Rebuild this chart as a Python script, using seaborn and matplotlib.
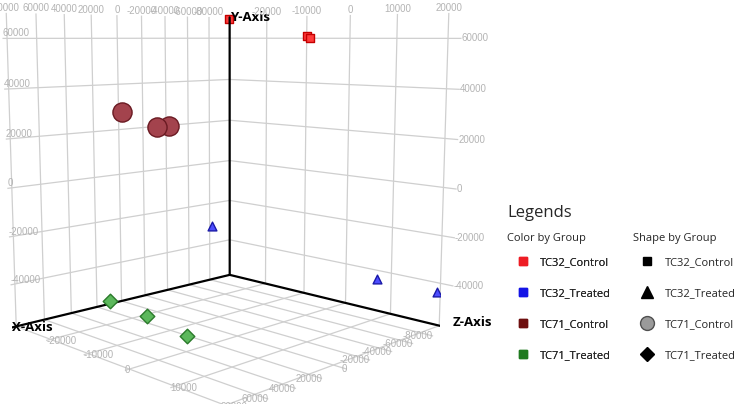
import numpy as np
import matplotlib
matplotlib.use("Agg")
import matplotlib.pyplot as plt
from matplotlib.lines import Line2D
import seaborn as sns

# ---------------- data ----------------
groups = ["TC32_Control", "TC32_Treated", "TC71_Control", "TC71_Treated"]
point_group = (["TC32_Control"] * 3 + ["TC32_Treated"] * 3 +
               ["TC71_Control"] * 3 + ["TC71_Treated"] * 3)
x_vals = [-92000, -91000, -96000, -75000, -80000, -96000,
          11000, -17000, -27000, 17500, 26000, 41000]
y_vals = [61000, 60000, 69000, -30000, -39500, -43000,
          29000, 21000, 21000, -54000, -53000, -51500]
z_vals = [-8000, -7000, -29000, -28000, 11000, 20000,
          -25000, -25000, -25000, -27000, -14000, 600]

x_ticks = [-80000, -60000, -40000, -20000, 0, 20000, 40000, 60000, 80000]
y_ticks = [-40000, -20000, 0, 20000, 40000, 60000]
z_ticks = [-20000, -10000, 0, 10000, 20000]
x_lim = (-100000, 83000)
y_lim = (-58000, 70000)
z_lim = (-30000, 22500)

legend_colors = ["#ee1c24", "#1414e6", "#6e0f0f", "#1f7a1f"]
fill_colors = ["#ff3b3b", "#4d4dff", "#a3434d", "#5cb85c"]
edge_colors = ["#c40000", "#1a1aa8", "#6a1a22", "#2a7a2a"]
markers = ["s", "^", "o", "D"]
sizes = [40, 40, 190, 55]

# ---------------- style ----------------
sns.set_theme(style="white")
plt.rcParams["font.family"] = ["Open Sans", "DejaVu Sans"]
plt.rcParams["grid.color"] = "#cfcfcf"
plt.rcParams["grid.linewidth"] = 0.9
pal_fill = sns.color_palette(fill_colors)
pal_edge = sns.color_palette(edge_colors)
pal_leg = sns.color_palette(legend_colors)

fig = plt.figure(figsize=(7.40, 4.04), dpi=100)
ax = fig.add_axes([-0.025, 0.025, 0.66, 1.06], projection="3d")
ax.set_proj_type("persp", focal_length=0.42)
ax.view_init(elev=8, azim=45)
ax.set_box_aspect((1, 1.02, 1.01), zoom=1.25)

# mpl axes: x = X, y = Z, z = Y
ax.set_xlim(*x_lim)
ax.set_ylim(*z_lim)
ax.set_zlim(*y_lim)
ax.set_xticks(x_ticks)
ax.set_yticks(z_ticks)
ax.set_zticks(y_ticks)
ax.set_xticklabels([])
ax.set_yticklabels([])
ax.set_zticklabels([])
for a in (ax.xaxis, ax.yaxis, ax.zaxis):
    a.set_pane_color((1, 1, 1, 0))
    a.pane.set_edgecolor((1, 1, 1, 0))
    a.line.set_color((1, 1, 1, 0))
    a._axinfo["tick"]["inward_factor"] = 0
    a._axinfo["tick"]["outward_factor"] = 0
    a._axinfo["grid"]["color"] = "#cfcfcf"
    a._axinfo["grid"]["linewidth"] = 0.9
ax.grid(True)

# black axis lines
x0, x1 = x_lim
z0, z1 = z_lim
y0, y1 = y_lim
ax.plot([x0, x1], [z0, z0], [y0, y0], color="black", lw=1.6, zorder=2)
ax.plot([x0, x0], [z0, z1], [y0, y0], color="black", lw=1.6, zorder=2)
ax.plot([x0, x0], [z0, z0], [y0, y1], color="black", lw=1.6, zorder=2)

lab_kw = dict(fontsize=9.5, fontweight="bold", color="black")
ax.text(x1, z0, y0, "X-Axis", ha="left", va="center", **lab_kw)
ax.text(x0, z1, y0 + 2500, "Z-Axis", ha="left", va="center", **lab_kw)
ax.text(x0, z0, y1, "Y-Axis", ha="left", va="center", **lab_kw)

tk = dict(fontsize=7, color="#b4b4b4", family=["Liberation Sans"])
for t in x_ticks:
    ax.text(t, z0, y1, f"{t}", ha="center", va="bottom", **tk)
    ax.text(t, z1, y0, f"{t}", ha="right", va="center", **tk)
for t in z_ticks:
    ax.text(x0, t, y1, f"{t}", ha="center", va="bottom", **tk)
    ax.text(x1, t, y0, f"{t}", ha="left", va="center", **tk)
for t in y_ticks:
    ax.text(x1, z0, t, f"{t}", ha="left", va="bottom", **tk)
    ax.text(x0, z1, t, f"{t}", ha="left", va="center", **tk)

# points
for gi, g in enumerate(groups):
    idx = [i for i, pg in enumerate(point_group) if pg == g]
    ax.scatter([x_vals[i] for i in idx], [z_vals[i] for i in idx],
               [y_vals[i] for i in idx], marker=markers[gi], s=sizes[gi],
               color=pal_fill[gi], edgecolors=[pal_edge[gi]], linewidths=1.0,
               depthshade=False, zorder=5)

# ---------------- legends ----------------
fig.text(507 / 740, 1 - 213 / 404, "Legends", fontsize=12, va="center", ha="left")
fig.text(507 / 740, 1 - 238 / 404, "Color by Group", fontsize=8, va="center", ha="left")
fig.text(633 / 740, 1 - 238 / 404, "Shape by Group", fontsize=8, va="center", ha="left")
color_handles = [Line2D([], [], marker="s", ls="", markersize=6,
                        markerfacecolor=pal_leg[i], markeredgecolor=pal_leg[i])
                 for i in range(4)]
shape_handles = [Line2D([], [], marker=m, ls="", markersize=ms,
                        markerfacecolor=fc, markeredgecolor=ec)
                 for m, ms, fc, ec in zip(["s", "^", "o", "D"], [6, 8, 10, 7],
                                          ["black", "black", "#9a9a9a", "black"],
                                          ["black", "black", "#505050", "black"])]
leg_kw = dict(loc="upper left", frameon=False, fontsize=8,
              labelspacing=1.8, borderpad=0, borderaxespad=0, alignment="left")
leg1 = fig.legend(color_handles, groups,
                  bbox_to_anchor=(507 / 740, 1 - 257 / 404),
                  handlelength=2.8, handletextpad=0.15, **leg_kw)
leg2 = fig.legend(shape_handles, groups,
                  bbox_to_anchor=(633 / 740, 1 - 257 / 404),
                  handlelength=2.5, handletextpad=0.35, **leg_kw)
fig.add_artist(leg1)

fig.savefig("out.png", dpi=100, facecolor="white")
